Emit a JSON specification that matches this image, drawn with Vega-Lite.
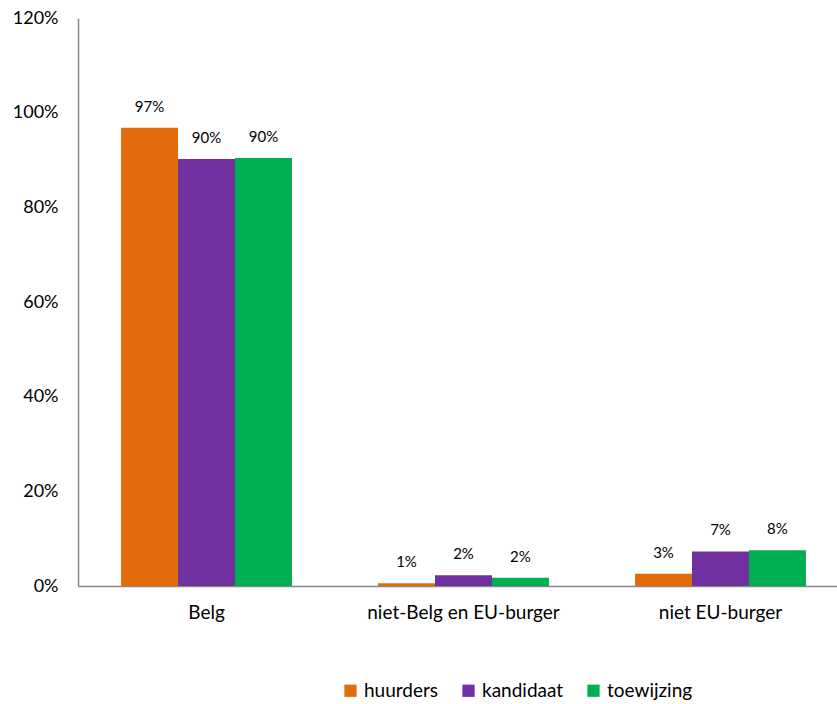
{
  "$schema": "https://vega.github.io/schema/vega-lite/v6.json",
  "autosize": "none",
  "width": 759,
  "height": 568,
  "padding": {"left": 78, "top": 18, "right": 0, "bottom": 118},
  "background": "white",
  "config": {
    "font": "Lato",
    "view": {"stroke": null}
  },
  "data": {
    "values": [
      {"groep": "Belg", "reeks": "huurders", "aandeel": 0.968},
      {"groep": "Belg", "reeks": "kandidaat", "aandeel": 0.902},
      {"groep": "Belg", "reeks": "toewijzing", "aandeel": 0.904},
      {"groep": "niet-Belg en EU-burger", "reeks": "huurders", "aandeel": 0.006},
      {"groep": "niet-Belg en EU-burger", "reeks": "kandidaat", "aandeel": 0.0226},
      {"groep": "niet-Belg en EU-burger", "reeks": "toewijzing", "aandeel": 0.0175},
      {"groep": "niet EU-burger", "reeks": "huurders", "aandeel": 0.026},
      {"groep": "niet EU-burger", "reeks": "kandidaat", "aandeel": 0.073},
      {"groep": "niet EU-burger", "reeks": "toewijzing", "aandeel": 0.0755}
    ]
  },
  "encoding": {
    "x": {
      "field": "groep",
      "type": "nominal",
      "sort": ["Belg", "niet-Belg en EU-burger", "niet EU-burger"],
      "scale": {"range": [0, 771], "paddingInner": 0.335, "paddingOuter": 0.1675},
      "axis": {
        "title": null,
        "labelAngle": 0,
        "labelFontSize": 19,
        "labelLimit": 0,
        "labelColor": "#000000",
        "labelPadding": 17,
        "ticks": false,
        "domainColor": "#888888",
        "domainWidth": 1.5
      }
    },
    "xOffset": {
      "field": "reeks",
      "type": "nominal",
      "sort": ["huurders", "kandidaat", "toewijzing"],
      "scale": {"paddingInner": 0, "paddingOuter": 0}
    },
    "y": {
      "field": "aandeel",
      "type": "quantitative",
      "scale": {"domain": [0, 1.2], "nice": false},
      "axis": {
        "title": null,
        "format": ".0%",
        "values": [0, 0.2, 0.4, 0.6, 0.8, 1.0, 1.2],
        "grid": false,
        "ticks": false,
        "labelFontSize": 18,
        "labelColor": "#000000",
        "labelPadding": 20,
        "domainColor": "#888888",
        "domainWidth": 1.5
      }
    }
  },
  "layer": [
    {
      "mark": {"type": "bar"},
      "encoding": {
        "color": {
          "field": "reeks",
          "type": "nominal",
          "sort": ["huurders", "kandidaat", "toewijzing"],
          "scale": {
            "domain": ["huurders", "kandidaat", "toewijzing"],
            "range": ["#E36C0A", "#7030A0", "#00B050"]
          },
          "legend": {
            "title": null,
            "orient": "none",
            "direction": "horizontal",
            "legendX": 263,
            "legendY": 663,
            "symbolType": "square",
            "symbolSize": 150,
            "symbolStrokeWidth": 0,
            "labelFontSize": 19,
            "labelColor": "#000000",
            "labelOffset": 4,
            "columnPadding": 20
          }
        }
      }
    },
    {
      "mark": {"type": "text", "baseline": "bottom", "dy": -13, "fontSize": 15, "color": "#000000"},
      "encoding": {
        "text": {"field": "aandeel", "type": "quantitative", "format": ".0%"}
      }
    }
  ]
}
